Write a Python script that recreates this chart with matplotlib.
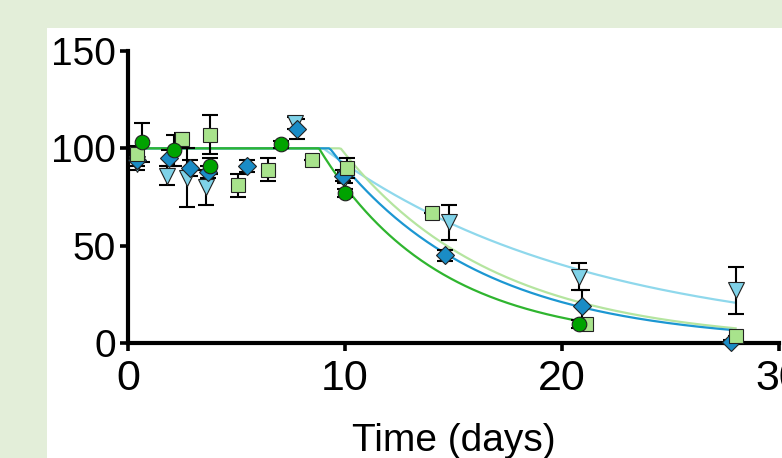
import numpy as np
import matplotlib.pyplot as plt
from matplotlib.patches import Rectangle

plt.rcParams['font.family'] = ['Liberation Sans', 'DejaVu Sans']

# series: dark green circles
circ_t = [0.65, 2.1, 3.8, 7.05, 10.0, 20.8]
circ_y = [103, 99, 91, 102, 77, 9.7]
circ_e = [10, 8, 4, 2, 2, 2]

# light green squares
sq_t = [0.4, 2.5, 3.8, 5.05, 6.45, 8.5, 10.1, 14.0, 21.1, 28.0]
sq_y = [97, 105, 107, 81, 89, 94, 90, 67, 10, 3.5]
sq_e = [4, 3, 10, 6, 6, 0, 5, 0, 0, 0]

# blue diamonds
dia_t = [0.4, 1.9, 2.85, 3.7, 5.5, 7.8, 9.9, 14.6, 20.9, 27.8]
dia_y = [94, 95, 90, 88, 91, 110, 86, 45, 19, 0.5]
dia_e = [3, 4, 4, 3, 3, 5, 3, 3, 8, 1]

# light blue triangles
tri_t = [0.4, 1.8, 2.7, 3.6, 7.7, 10.0, 14.8, 20.8, 28.0]
tri_y = [92, 86, 85, 80, 113, 85, 62, 34, 27]
tri_e = [3, 5, 15, 9, 3, 3, 9, 7, 12]

# plateau-then-decay fits: (start, end, t0, k)
fits = {
    'circ': (0.65, 20.8, 8.8, 0.182),
    'sq': (0.4, 28.0, 9.8, 0.142),
    'dia': (0.4, 28.0, 9.3, 0.146),
    'tri': (0.4, 28.0, 9.0, 0.083),
}

line_col = {'circ': '#2fb52f', 'sq': '#b5e5a0', 'dia': '#1c97d2', 'tri': '#8fd8ec'}
face_col = {'circ': '#00a300', 'sq': '#a8e38c', 'dia': '#1a8cc6', 'tri': '#7fd2e8'}

fig = plt.figure(figsize=(7.82, 4.58), dpi=100)
fig.patch.set_facecolor('#e3eed9')
fig.add_artist(Rectangle((47 / 782, 0), 1, 1 - 28 / 458, transform=fig.transFigure,
                         facecolor='white', edgecolor='none', zorder=0))

ax = fig.add_axes([128 / 782, 1 - 343 / 458, (779 - 128) / 782, (343 - 51) / 458])
ax.set_facecolor('none')

# fitted curves
for key in ['tri', 'sq', 'dia', 'circ']:
    t_start, t_end, t0, k = fits[key]
    tt = np.linspace(t_start, t_end, 300)
    yy = np.where(tt < t0, 100.0, 100.0 * np.exp(-k * (tt - t0)))
    ax.plot(tt, yy, color=line_col[key], lw=1.6, zorder=2, clip_on=False)

series = [
    ('tri', tri_t, tri_y, tri_e, 'v', 11),
    ('dia', dia_t, dia_y, dia_e, 'D', 9.5),
    ('sq', sq_t, sq_y, sq_e, 's', 10.5),
    ('circ', circ_t, circ_y, circ_e, 'o', 10.5),
]
for key, t, y, e, m, ms in series:
    ax.errorbar(t, y, yerr=e, fmt='none', ecolor='black', elinewidth=1.5,
                capsize=6, capthick=1.5, zorder=3, clip_on=False)
    ax.plot(t, y, ls='none', marker=m, ms=ms, mfc=face_col[key], mec='#222222',
            mew=0.8, zorder=4, clip_on=False)

ax.set_xlim(0, 30)
ax.set_ylim(0, 150)
ax.set_xticks([0, 10, 20, 30])
ax.set_yticks([0, 50, 100, 150])
for side in ['top', 'right']:
    ax.spines[side].set_visible(False)
for side in ['left', 'bottom']:
    ax.spines[side].set_linewidth(3)
ax.tick_params(direction='out', length=5.5, width=2.6)
ax.tick_params(axis='y', labelsize=28, pad=3)
ax.tick_params(axis='x', labelsize=31, pad=6)
ax.set_xlabel('Time (days)', fontsize=28, labelpad=17)

fig.savefig('out.png', dpi=100, facecolor=fig.get_facecolor())
